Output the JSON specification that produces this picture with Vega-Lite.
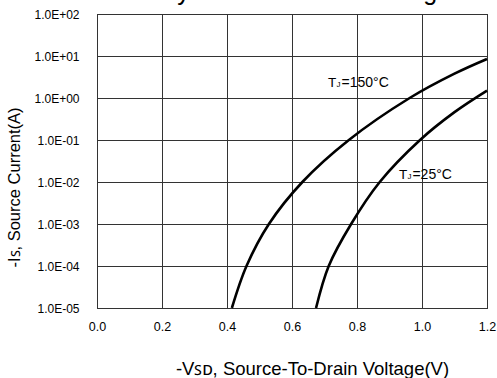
{
  "$schema": "https://vega.github.io/schema/vega-lite/v6.json",
  "width": 390,
  "height": 294,
  "autosize": {"type": "none"},
  "padding": {"left": 97, "top": 14, "right": 10, "bottom": 70},
  "background": "#ffffff",
  "config": {
    "view": {"stroke": "#000000", "strokeWidth": 1},
    "font": "Liberation Sans",
    "text": {"font": "Liberation Sans", "color": "#000000"}
  },
  "datasets": {
    "curves": [
      {"temp": "150", "v": 0.415, "i": 0.00001},
      {"temp": "150", "v": 0.46, "i": 0.0001},
      {"temp": "150", "v": 0.529, "i": 0.001},
      {"temp": "150", "v": 0.632, "i": 0.01},
      {"temp": "150", "v": 0.775, "i": 0.1},
      {"temp": "150", "v": 0.962, "i": 1},
      {"temp": "150", "v": 1.1, "i": 3.8},
      {"temp": "150", "v": 1.2, "i": 8.5},
      {"temp": "25", "v": 0.674, "i": 0.00001},
      {"temp": "25", "v": 0.713, "i": 0.0001},
      {"temp": "25", "v": 0.782, "i": 0.001},
      {"temp": "25", "v": 0.87, "i": 0.01},
      {"temp": "25", "v": 0.994, "i": 0.1},
      {"temp": "25", "v": 1.1, "i": 0.46},
      {"temp": "25", "v": 1.2, "i": 1.5}
    ],
    "labels": [
      {"v": 0.711, "i": 2.27, "rest": "=150°C"},
      {"v": 0.929, "i": 0.0148, "rest": "=25°C"}
    ],
    "heading": [
      {"v": 0.6, "i": 215, "text": "Body Diode Forward Voltage"}
    ]
  },
  "encoding": {
    "x": {
      "field": "v",
      "type": "quantitative",
      "scale": {"domain": [0, 1.2], "zero": false, "nice": false},
      "axis": {
        "values": [0, 0.2, 0.4, 0.6, 0.8, 1.0, 1.2],
        "format": ".1f",
        "grid": true,
        "gridColor": "#333333",
        "gridOpacity": 1,
        "gridWidth": 1,
        "ticks": false,
        "domain": false,
        "labelFlush": false,
        "labelOverlap": false,
        "labelFontSize": 12.5,
        "labelColor": "#000000",
        "labelPadding": 12,
        "labelFont": "Liberation Sans",
        "labelDx": 2,
        "title": "-Vꜱᴅ, Source-To-Drain Voltage(V)",
        "titleFont": "Liberation Sans",
        "titleFontSize": 18.5,
        "titleFontWeight": "normal",
        "titleColor": "#000000",
        "titleX": 215,
        "titleY": 60,
        "titleBaseline": "middle",
        "titleAlign": "center"
      }
    },
    "y": {
      "field": "i",
      "type": "quantitative",
      "scale": {"type": "log", "domain": [0.00001, 100], "nice": false},
      "axis": {
        "values": [0.00001, 0.0001, 0.001, 0.01, 0.1, 1, 10, 100],
        "labelExpr": "'1.0E' + (datum.value < 0.5 ? '-' : '+') + '0' + abs(round(log(datum.value) / LN10))",
        "grid": true,
        "gridColor": "#333333",
        "gridOpacity": 1,
        "gridWidth": 1,
        "ticks": false,
        "domain": false,
        "labelOverlap": false,
        "labelFontSize": 12,
        "labelColor": "#000000",
        "labelPadding": 18,
        "labelFont": "Liberation Sans",
        "title": "-Iꜱ, Source Current(A)",
        "titleFont": "Liberation Sans",
        "titleFontSize": 16.5,
        "titleFontWeight": "normal",
        "titleColor": "#000000",
        "titleX": -83,
        "titleY": 173,
        "titleBaseline": "middle",
        "titleAlign": "center"
      }
    }
  },
  "layer": [
    {
      "data": {"name": "curves"},
      "mark": {"type": "line", "interpolate": "catmull-rom", "color": "#000000", "strokeWidth": 2.6},
      "encoding": {"detail": {"field": "temp", "type": "nominal"}}
    },
    {
      "data": {"name": "labels"},
      "mark": {"type": "text", "align": "left", "baseline": "middle", "fontSize": 13.5},
      "encoding": {"text": {"value": "T"}}
    },
    {
      "data": {"name": "labels"},
      "mark": {"type": "text", "align": "left", "baseline": "middle", "fontSize": 8, "dx": 8.5, "dy": 2},
      "encoding": {"text": {"value": "J"}}
    },
    {
      "data": {"name": "labels"},
      "mark": {"type": "text", "align": "left", "baseline": "middle", "fontSize": 14, "dx": 13.5},
      "encoding": {"text": {"field": "rest", "type": "nominal"}}
    },
    {
      "data": {"name": "heading"},
      "mark": {"type": "text", "align": "center", "baseline": "alphabetic", "fontSize": 25},
      "encoding": {"text": {"field": "text", "type": "nominal"}}
    }
  ]
}
